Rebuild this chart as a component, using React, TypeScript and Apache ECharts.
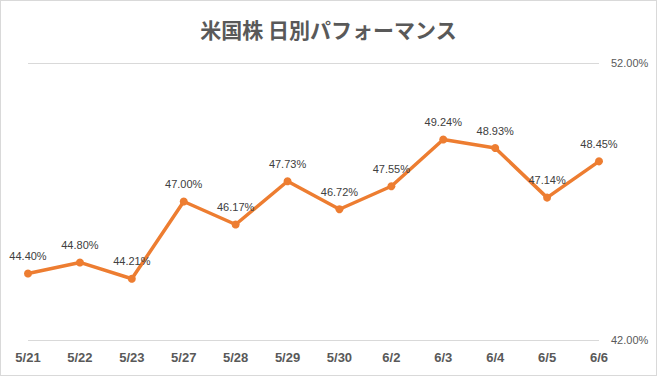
import React, { useEffect, useRef } from "react";
import * as echarts from "echarts";

const titleText = "米国株 日別パフォーマンス";
const categories = ["5/21", "5/22", "5/23", "5/27", "5/28", "5/29", "5/30", "6/2", "6/3", "6/4", "6/5", "6/6"];
const values = [44.4, 44.8, 44.21, 47.0, 46.17, 47.73, 46.72, 47.55, 49.24, 48.93, 47.14, 48.45];
const yMin = 42;
const yMax = 52;
const yInterval = 10;

export default function App() {
  const ref = useRef<HTMLDivElement>(null);
  useEffect(() => {
    if (!ref.current) return;
    const chart = echarts.init(ref.current, undefined, { renderer: "svg" });
    chart.setOption({
      animation: false,
      backgroundColor: "#ffffff",
      title: {
        text: titleText,
        left: "center",
        top: 12,
        textStyle: {
          fontFamily: "Noto Sans CJK JP",
          fontSize: 21,
          fontWeight: "bold",
          color: "#595959",
        },
      },
      grid: { left: 27, right: 57, top: 62, bottom: 35 },
      xAxis: {
        type: "category",
        data: categories,
        boundaryGap: false,
        axisLine: { show: false },
        axisTick: { show: false },
        axisLabel: {
          margin: 11,
          fontFamily: "Liberation Sans",
          fontSize: 13,
          fontWeight: "bold",
          color: "#595959",
        },
      },
      yAxis: {
        type: "value",
        position: "right",
        min: yMin,
        max: yMax,
        interval: yInterval,
        axisLine: { show: false },
        axisTick: { show: false },
        splitLine: { lineStyle: { color: "#d9d9d9", width: 1 } },
        axisLabel: {
          margin: 12,
          fontFamily: "Liberation Sans",
          fontSize: 11,
          color: "#595959",
          formatter: (v: number) => v.toFixed(2) + "%",
        },
      },
      series: [
        {
          type: "line",
          data: values,
          symbol: "circle",
          symbolSize: 8,
          lineStyle: { color: "#ED7D31", width: 3.5 },
          itemStyle: { color: "#ED7D31" },
          label: {
            show: true,
            position: "top",
            distance: 8,
            fontFamily: "Liberation Sans",
            fontSize: 11,
            color: "#404040",
            formatter: (p: any) => p.value.toFixed(2) + "%",
          },
        },
      ],
    });
    return () => chart.dispose();
  }, []);
  return (
    <div
      style={{
        position: "fixed",
        left: 0,
        top: 0,
        width: 657,
        height: 376,
        boxSizing: "border-box",
        border: "1px solid #d9d9d9",
        background: "#fff",
      }}
    >
      <div ref={ref} style={{ width: 655, height: 374 }} />
    </div>
  );
}
